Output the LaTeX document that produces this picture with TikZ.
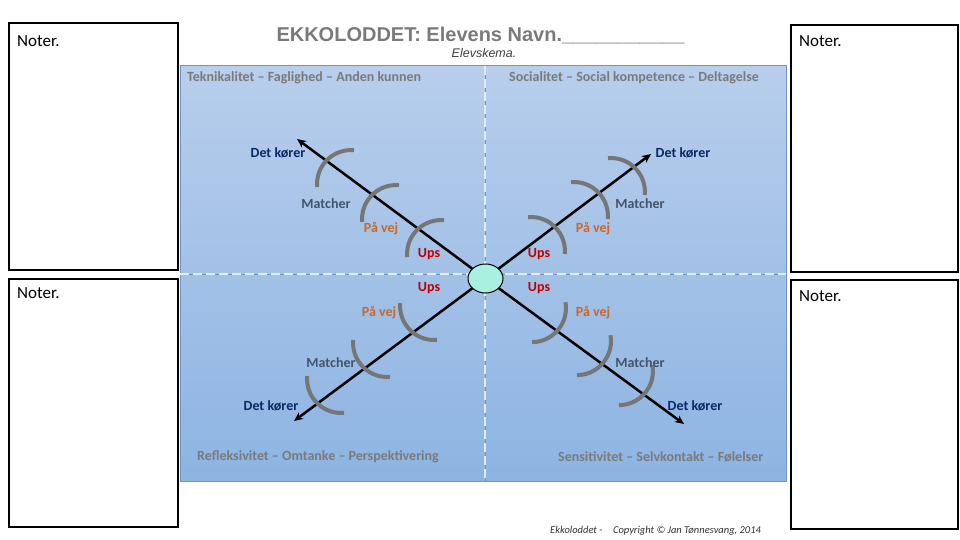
\documentclass[tikz,border=0pt]{standalone}
\usepackage{fontspec}
\setmainfont{Carlito}
\newfontfamily\arialfont{Liberation Sans}
\usepackage{xcolor}
\usetikzlibrary{arrows.meta,shapes.geometric}
\definecolor{panelTop}{RGB}{184,206,236}
\definecolor{panelBot}{RGB}{141,180,226}
\definecolor{panelEdge}{RGB}{112,146,196}
\definecolor{dashWhite}{RGB}{226,236,248}
\definecolor{hubcolor}{RGB}{170,240,224}
\definecolor{echogray}{RGB}{118,118,118}
\definecolor{headgray}{RGB}{122,122,122}
\definecolor{koercolor}{RGB}{10,40,100}
\definecolor{matchcolor}{RGB}{68,84,106}
\definecolor{vejcolor}{RGB}{200,104,44}
\definecolor{upscolor}{RGB}{192,0,0}
\tikzset{
  noter box/.style={
    draw=black,
    line width=2pt,
    fill=white
  },
  noter text/.style={
    anchor=west,
    inner sep=0pt,
    font=\fontsize{17}{19}\selectfont
  },
  heading/.style={
    anchor=west,
    inner sep=0pt,
    text=headgray,
    font=\fontsize{14}{16}\selectfont\bfseries
  },
  lbl/.style={
    inner sep=0pt,
    font=\fontsize{14}{16}\selectfont\bfseries
  },
  lbl koer/.style={lbl, text=koercolor},
  lbl match/.style={lbl, text=matchcolor},
  lbl vej/.style={lbl, text=vejcolor},
  lbl ups/.style={lbl, text=upscolor},
  hub/.style={
    ellipse,
    draw=black,
    line width=1pt,
    fill=hubcolor,
    minimum width=35pt,
    minimum height=29pt,
    inner sep=0pt
  },
  axis arrow/.style={
    -{Stealth[length=9pt,width=8pt]},
    line width=2.5pt
  },
  echo/.style={
    draw=echogray,
    line width=4pt
  },
  divider/.style={
    draw=dashWhite,
    line width=2.2pt,
    dash pattern=on 9pt off 4pt
  }
}

\begin{document}
\begin{tikzpicture}[x=1pt, y=1pt]
  \useasboundingbox (0,0) rectangle (960,-540);
  \fill[white] (0,0) rectangle (960,-540);

  % Panel
  \shade[top color=panelTop, bottom color=panelBot] (180,-66) rectangle (786,-481);
  \draw[panelEdge, line width=1pt] (180,-66) rectangle (786,-481);
  \draw[panelEdge, line width=0.8pt] (485,-66) -- (485,-481);
  \draw[panelEdge, line width=0.8pt] (180,-274) -- (786,-274);
  \draw[divider] (485,-66) -- (485,-481);
  \draw[divider] (180,-274) -- (786,-274);

  % Notes
  \draw[noter box] (9,-23) rectangle (178,-270);
  \draw[noter box] (9,-279) rectangle (178,-527);
  \draw[noter box] (791,-25) rectangle (958,-272);
  \draw[noter box] (791,-280) rectangle (958,-529);
  \node[noter text] (n1) at (17,-41) {Noter.};
  \node[noter text] (n2) at (17,-293) {Noter.};
  \node[noter text] (n3) at (799,-41) {Noter.};
  \node[noter text] (n4) at (799,-296) {Noter.};

  % Title
  \node[text=headgray, font=\arialfont\fontsize{20}{22}\selectfont\bfseries] (title) at (480.5,-35) {EKKOLODDET: Elevens Navn.\_\_\_\_\_\_\_\_\_\_\_};
  \node[text=black!75, font=\arialfont\fontsize{12.5}{14}\selectfont\itshape, inner sep=0pt] (sub) at (484,-53) {Elevskema.};

  % Quadrant headings
  \node[heading] (hTL) at (187,-78) {Teknikalitet – Faglighed – Anden kunnen};
  \node[heading] (hTR) at (509,-78) {Socialitet – Social kompetence – Deltagelse};
  \node[heading] (hBL) at (197,-457) {Refleksivitet – Omtanke – Perspektivering};
  \node[heading] (hBR) at (558,-457) {Sensitivitet – Selvkontakt – Følelser};

  % Hub and arrows
  \node[hub] (hub) at (485.5,-278.5) {};
  \coordinate (nw) at (297,-139);
  \coordinate (ne) at (651,-154);
  \coordinate (sw) at (294,-421);
  \coordinate (se) at (684,-424);
  \draw[axis arrow] (hub) -- (nw);
  \draw[axis arrow] (hub) -- (ne);
  \draw[axis arrow] (hub) -- (sw);
  \draw[axis arrow] (hub) -- (se);

  % Echo arcs
  \draw[echo] (327,-160) ++(315:34) ++(85:34) arc[start angle=85, end angle=185, radius=34];
  \draw[echo] (372,-195) ++(315:34) ++(85:34) arc[start angle=85, end angle=185, radius=34];
  \draw[echo] (417,-230) ++(315:34) ++(85:34) arc[start angle=85, end angle=185, radius=34];
  \draw[echo] (635,-168) ++(225:34) ++(-5:34) arc[start angle=-5, end angle=95, radius=34];
  \draw[echo] (598,-192) ++(225:34) ++(-5:34) arc[start angle=-5, end angle=95, radius=34];
  \draw[echo] (555,-227) ++(225:34) ++(-5:34) arc[start angle=-5, end angle=95, radius=34];
  \draw[echo] (410,-330) ++(45:34) ++(175:34) arc[start angle=175, end angle=275, radius=34];
  \draw[echo] (363,-367) ++(45:34) ++(175:34) arc[start angle=175, end angle=275, radius=34];
  \draw[echo] (317,-403) ++(45:34) ++(175:34) arc[start angle=175, end angle=275, radius=34];
  \draw[echo] (558,-330) ++(140:34) ++(-90:34) arc[start angle=-90, end angle=10, radius=34];
  \draw[echo] (603,-363) ++(140:34) ++(-90:34) arc[start angle=-90, end angle=10, radius=34];
  \draw[echo] (645,-393) ++(140:34) ++(-90:34) arc[start angle=-90, end angle=10, radius=34];

  % Level labels
  \node[lbl koer] (k1) at (278,-153) {Det kører};
  \node[lbl match] (m1) at (326,-204) {Matcher};
  \node[lbl vej] (v1) at (381,-229) {På vej};
  \node[lbl ups] (u1) at (429,-254) {Ups};
  \node[lbl koer] (k2) at (683,-153) {Det kører};
  \node[lbl match] (m2) at (640,-204) {Matcher};
  \node[lbl vej] (v2) at (593,-229) {På vej};
  \node[lbl ups] (u2) at (539,-254) {Ups};
  \node[lbl ups] (u3) at (429,-288) {Ups};
  \node[lbl vej] (v3) at (379,-313) {På vej};
  \node[lbl match] (m3) at (331,-363) {Matcher};
  \node[lbl koer] (k3) at (271,-406) {Det kører};
  \node[lbl ups] (u4) at (539,-288) {Ups};
  \node[lbl vej] (v4) at (593,-313) {På vej};
  \node[lbl match] (m4) at (640,-363) {Matcher};
  \node[lbl koer] (k4) at (695,-406) {Det kører};

  % Footer
  \node[anchor=west, inner sep=0pt, text=black!80, font=\fontsize{10.5}{12}\selectfont\itshape] (foot) at (550,-531) {Ekkoloddet -\quad Copyright © Jan Tønnesvang, 2014};

\end{tikzpicture}
\end{document}
